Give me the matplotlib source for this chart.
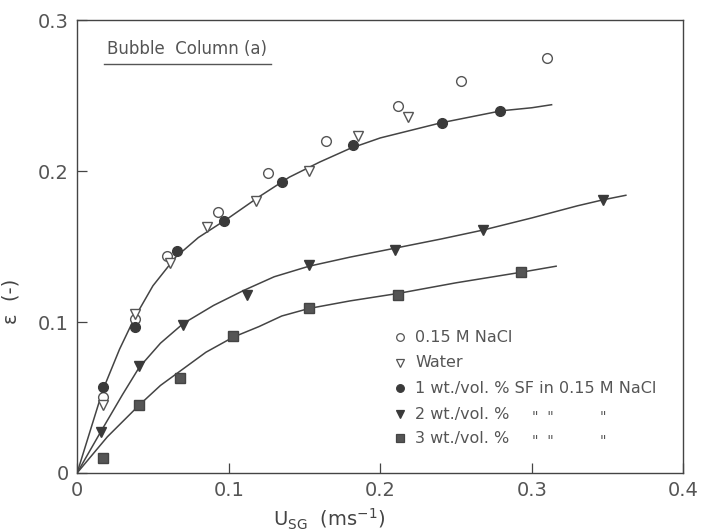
import matplotlib.pyplot as plt

nacl_x = [0.017, 0.038, 0.059, 0.093, 0.126, 0.164, 0.212, 0.253, 0.31]
nacl_y = [0.050, 0.102, 0.144, 0.173, 0.199, 0.220, 0.243, 0.260, 0.275]

water_x = [0.017, 0.038, 0.061, 0.086, 0.118, 0.153, 0.185, 0.218]
water_y = [0.045, 0.105, 0.139, 0.163, 0.180, 0.200, 0.223, 0.236]

sf1_x = [0.017, 0.038, 0.066, 0.097, 0.135, 0.182, 0.241, 0.279]
sf1_y = [0.057, 0.097, 0.147, 0.167, 0.193, 0.217, 0.232, 0.240]

sf2_x = [0.016, 0.041, 0.070, 0.112, 0.153, 0.210, 0.268, 0.347]
sf2_y = [0.027, 0.071, 0.098, 0.118, 0.138, 0.148, 0.161, 0.181]

sf3_x = [0.017, 0.041, 0.068, 0.103, 0.153, 0.212, 0.293]
sf3_y = [0.010, 0.045, 0.063, 0.091, 0.109, 0.118, 0.133]

# hand drawn curves
c1_x = [0, 0.017, 0.028, 0.038, 0.05, 0.065, 0.08, 0.1, 0.12, 0.14, 0.16, 0.18, 0.2, 0.22, 0.24, 0.26, 0.28, 0.3, 0.313]
c1_y = [0, 0.055, 0.082, 0.103, 0.124, 0.143, 0.156, 0.169, 0.183, 0.196, 0.206, 0.215, 0.222, 0.227, 0.232, 0.236, 0.240, 0.242, 0.244]

c2_x = [0, 0.016, 0.03, 0.041, 0.055, 0.07, 0.09, 0.11, 0.13, 0.153, 0.18, 0.21, 0.24, 0.268, 0.3, 0.33, 0.347, 0.362]
c2_y = [0, 0.028, 0.052, 0.070, 0.086, 0.099, 0.111, 0.121, 0.130, 0.137, 0.143, 0.149, 0.155, 0.161, 0.169, 0.177, 0.181, 0.184]

c3_x = [0, 0.02, 0.041, 0.055, 0.07, 0.085, 0.103, 0.12, 0.135, 0.153, 0.18, 0.212, 0.25, 0.293, 0.316]
c3_y = [0, 0.024, 0.045, 0.058, 0.069, 0.080, 0.090, 0.097, 0.104, 0.109, 0.114, 0.119, 0.126, 0.133, 0.137]

legend_labels = ['0.15 M NaCl', 'Water', '1 wt./vol. % SF in 0.15 M NaCl',
                 '2 wt./vol. %', '3 wt./vol. %']

fig = plt.figure(figsize=(7.01, 5.32), dpi=100)
ax = fig.add_axes([0.110, 0.111, 0.865, 0.851])

for cx, cy in [(c1_x, c1_y), (c2_x, c2_y), (c3_x, c3_y)]:
    ax.plot(cx, cy, color='#444444', linewidth=1.1)

ms = 7
ax.plot(nacl_x, nacl_y, 'o', mfc='white', mec='#555555', ms=ms, mew=1.0)
ax.plot(water_x, water_y, 'v', mfc='white', mec='#555555', ms=ms, mew=1.0)
ax.plot(sf1_x, sf1_y, 'o', mfc='#3a3a3a', mec='#3a3a3a', ms=ms)
ax.plot(sf2_x, sf2_y, 'v', mfc='#3a3a3a', mec='#3a3a3a', ms=ms)
ax.plot(sf3_x, sf3_y, 's', mfc='#555555', mec='#444444', ms=6.5)

ax.set_xlim(0, 0.4)
ax.set_ylim(0, 0.3)
ax.set_xticks([0, 0.1, 0.2, 0.3, 0.4])
ax.set_xticklabels(['0', '0.1', '0.2', '0.3', '0.4'])
ax.set_yticks([0, 0.1, 0.2, 0.3])
ax.set_yticklabels(['0', '0.1', '0.2', '0.3'])
ax.tick_params(direction='in', length=7, width=0.9, labelsize=14,
               labelcolor='#555555', color='#444444', pad=6)
for s in ax.spines.values():
    s.set_color('#444444')
    s.set_linewidth(1.0)

ax.set_ylabel('ε  (-)', fontsize=14, color='#444444')
ax.yaxis.set_label_coords(-0.093, 0.38)
ax.set_xlabel(r'U$_{\mathrm{SG}}$  (ms$^{-1}$)', fontsize=14, color='#444444')
ax.xaxis.set_label_coords(0.416, -0.075)

ax.text(0.020, 0.281, 'Bubble  Column (a)', fontsize=12, color='#555555', va='center')
ax.plot([0.018, 0.128], [0.271, 0.271], color='#555555', linewidth=1.0)

# legend written out like the original
leg_y = [0.090, 0.073, 0.056, 0.039, 0.023]
markers = [('o', 'white', '#555555'), ('v', 'white', '#555555'),
           ('o', '#3a3a3a', '#3a3a3a'), ('v', '#3a3a3a', '#3a3a3a'),
           ('s', '#555555', '#444444')]
for (m, fc, ec), yy, lab in zip(markers, leg_y, legend_labels):
    ax.plot([0.213], [yy], m, mfc=fc, mec=ec, ms=5.5, mew=0.9)
    ax.text(0.223, yy, lab, fontsize=11.5, color='#555555', va='center')
for yy in leg_y[3:]:
    ax.text(0.300, yy - 0.002, '"  "', fontsize=10, color='#555555', va='center')
    ax.text(0.345, yy - 0.002, '"', fontsize=10, color='#555555', va='center')

fig.savefig('out.png', dpi=100)
